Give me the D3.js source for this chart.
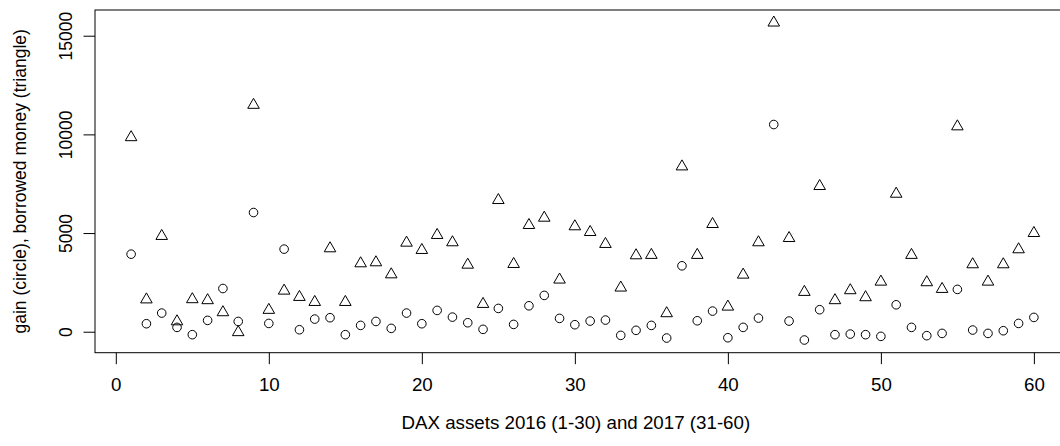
<!DOCTYPE html>
<html lang="en">
<head>
<meta charset="UTF-8">
<title>DAX gain vs borrowed money</title>
<script src="https://d3js.org/d3.v7.min.js"></script>
<style>
  body { margin: 0; background: #fff; }
  svg text { font-family: "Liberation Sans", Arial, sans-serif; fill: #000; }
</style>
</head>
<body>
<svg width="1060" height="446"></svg>
<script>
    // asset index 1..60 (2016: 1-30, 2017: 31-60)
    const assets = d3.range(1, 61);

    // gain (circles)
    const gain = [
        3930, 405, 945, 220, -150, 575, 2190, 520, 6040, 420,
        4185, 100, 640, 710, -150, 320, 520, 170, 945, 405,
        1080, 740, 455, 120, 1180, 370, 1315, 1840, 675, 355,
        540, 590, -185, 70, 320, -320, 3340, 555, 1045, -305,
        220, 690, 10500, 540, -420, 1115, -150, -120, -150, -235,
        1365, 220, -200, -85, 2145, 85, -85, 50, 420, 725
    ];

    // borrowed money (triangles)
    const borrowed = [
        9850, 1630, 4845, 520, 1640, 1590, 980, -30, 11490, 1100,
        2075, 1755, 1500, 4220, 1500, 3460, 3510, 2900, 4505, 4135,
        4895, 4525, 3390, 1400, 6665, 3425, 5400, 5770, 2635, 5335,
        5045, 4440, 2230, 3865, 3885, 930, 8370, 3885, 5450, 1265,
        2885, 4525, 15660, 4740, 2010, 7375, 1590, 2095, 1740, 2530,
        6985, 3885, 2500, 2160, 10400, 3410, 2530, 3410, 4170, 4995
    ];

    const xTicks = [0, 10, 20, 30, 40, 50, 60];
    const yTicks = [0, 5000, 10000, 15000];

    const xLabel = "DAX assets 2016 (1-30) and 2017 (31-60)";
    const yLabel = "gain (circle), borrowed money (triangle)";

    const svg = d3.select("svg");

    // plot region (right edge runs past the picture, as in the original)
    const plotL = 95, plotR = 1070, plotT = 10, plotB = 352.7;

    // R-style 4% padding on both axes
    const xs = d3.scaleLinear().domain([-1.36, 62.36]).range([plotL, plotR]);
    const yMin = d3.min(gain.concat(borrowed)), yMax = d3.max(gain.concat(borrowed));
    const pad = (yMax - yMin) * 0.04;
    const ys = d3.scaleLinear().domain([yMin - pad, yMax + pad]).range([plotB, plotT]);

    // horizontal text in the original is a bit wider than the font
    function widen(sel) {
        sel.each(function () {
            const w = this.getComputedTextLength();
            d3.select(this).attr("textLength", w * 1.07).attr("lengthAdjust", "spacingAndGlyphs");
        });
    }

    // box
    svg.append("rect")
        .attr("x", plotL).attr("y", plotT)
        .attr("width", plotR - plotL).attr("height", plotB - plotT)
        .attr("fill", "none").attr("stroke", "#000").attr("stroke-width", 1);

    // x axis
    const xAxis = svg.append("g").attr("transform", `translate(0,${plotB})`)
        .call(d3.axisBottom(xs).tickValues(xTicks).tickSize(11.5).tickPadding(14).tickSizeOuter(0));
    xAxis.select(".domain").remove();
    xAxis.selectAll("text").style("font-size", "17.5px").attr("font-family", null).call(widen);

    // y axis with rotated labels
    const yAxis = svg.append("g").attr("transform", `translate(${plotL},0)`)
        .call(d3.axisLeft(ys).tickValues(yTicks).tickFormat(d3.format("d")).tickSize(11.5).tickSizeOuter(0));
    yAxis.select(".domain").remove();
    yAxis.selectAll("text")
        .attr("x", null).attr("dy", null)
        .attr("text-anchor", "middle")
        .attr("transform", "translate(-23.3,0) rotate(-90)")
        .style("font-size", "17.5px").attr("font-family", null);

    // axis titles
    svg.append("text")
        .attr("x", (xs(0) + xs(60)) / 2 + 1).attr("y", 429)
        .attr("text-anchor", "middle")
        .style("font-size", "17.5px")
        .text(xLabel)
        .call(widen);

    svg.append("text")
        .attr("transform", `translate(26,${(plotT + plotB) / 2}) rotate(-90)`)
        .attr("text-anchor", "middle")
        .style("font-size", "17.5px")
        .text(yLabel);

    // circles: gain
    svg.append("g").selectAll("circle")
        .data(assets)
        .join("circle")
        .attr("cx", (d, i) => xs(d))
        .attr("cy", (d, i) => ys(gain[i]))
        .attr("r", 4.3)
        .attr("fill", "none").attr("stroke", "#000").attr("stroke-width", 1);

    // triangles: borrowed money
    const tri = d3.symbol().type(d3.symbolTriangle).size(58);
    svg.append("g").selectAll("path")
        .data(assets)
        .join("path")
        .attr("d", tri)
        .attr("transform", (d, i) => `translate(${xs(d)},${ys(borrowed[i])})`)
        .attr("fill", "none").attr("stroke", "#000").attr("stroke-width", 1);
</script>
</body>
</html>
